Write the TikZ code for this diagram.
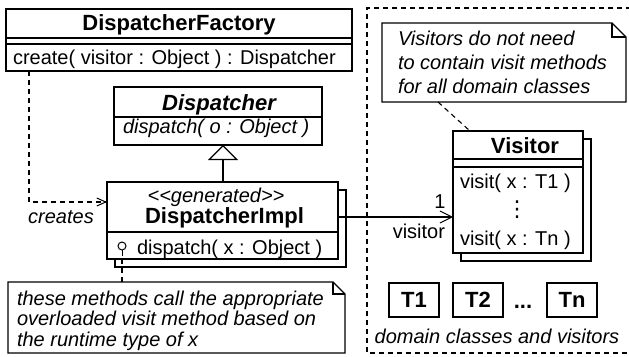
\documentclass[tikz,border=0pt]{standalone}
\usepackage{fontspec}
\setmainfont{Liberation Sans}
\newfontfamily\dejavu{DejaVu Sans}
\usetikzlibrary{arrows.meta,calc}
\begin{document}
\begin{tikzpicture}[x=1pt,y=-1pt,
  lw/.style={line width=1.2pt},
  dline/.style={line width=1.1pt,dash pattern=on 5pt off 4pt},
  box/.style={draw,fill=white,line width=1.2pt,inner sep=0pt,outer sep=0pt,rectangle},
  area/.style={inner sep=0pt,outer sep=0pt,rectangle},
  txt/.style={inner sep=0pt,outer sep=0pt,font=\fontsize{20}{24}\selectfont},
  itxt/.style={inner sep=0pt,outer sep=0pt,font=\fontsize{20}{24}\selectfont\itshape},
  btxt/.style={inner sep=0pt,outer sep=0pt,font=\fontsize{22}{26}\selectfont\bfseries},
  bitxt/.style={inner sep=0pt,outer sep=0pt,font=\fontsize{22}{26}\selectfont\bfseries\itshape},
  tbox/.style={box,minimum width=50pt,minimum height=34pt,font=\fontsize{22}{26}\selectfont\bfseries}
]
\useasboundingbox (0,0) rectangle (629,356);

% container of the domain classes and visitors
\coordinate (ctr) at (640,8);
\coordinate (ctl) at (367,8);
\coordinate (cbl) at (367,353);
\coordinate (cbr) at (640,353);
\draw[dline] (ctr) -- (ctl) -- (cbl) -- (cbr);

% DispatcherFactory
\node[box,minimum width=346pt,minimum height=62pt] (df) at (179,40) {};
\draw[lw] (df.west |- 0,38) -- (df.east |- 0,38);
\draw[lw] (df.west |- 0,44) -- (df.east |- 0,44);
\node[btxt,anchor=base] (dft) at (179,30) {DispatcherFactory};
\node[txt,anchor=base west] (dfm) at (13,64) {create( visitor : Object ) : Dispatcher};

% Dispatcher
\node[box,minimum width=208pt,minimum height=58pt] (disp) at (218,116) {};
\draw[lw] (disp.west |- 0,117) -- (disp.east |- 0,117);
\node[bitxt,anchor=base] (dispt) at (219,110) {Dispatcher};
\node[itxt,anchor=base west] (dispm) at (123,133) {dispatch( o : Object )};

% DispatcherImpl
\node[box,minimum width=231pt,minimum height=77pt] (dimplsh) at (230.5,228.5) {};
\node[box,minimum width=231pt,minimum height=77pt] (dimpl) at (222.5,220.5) {};
\draw[lw] (dimpl.west |- 0,232) -- (dimpl.east |- 0,232);
\node[itxt,anchor=base] (dimpls) at (216,202) {<{}<generated>{}>};
\node[btxt,anchor=base] (dimplt) at (224.5,223) {DispatcherImpl};
\node[txt,anchor=base west] (dimplm) at (137,254) {dispatch( x : Object )};
\draw[line width=1pt] (122,250) -- (122,256);
\draw[line width=1pt,fill=white] (122,246) circle (4);

% generalization
\draw[lw,-{Triangle[open,length=15pt,width=30pt]}] (dimpl.north -| 223,0) -- (disp.south -| 223,0);

% creates
\draw[dline,-{Straight Barb[length=9pt,width=8pt,line width=1pt]}] ([xshift=23pt]df.south west) |- (dimpl.west |- 0,202);
\node[itxt,anchor=base] (cr) at (61,223) {creates};

% note 1
\node[area,minimum width=337pt,minimum height=71pt] (n1) at (176.5,317.5) {};
\draw[lw,fill=white] (n1.north west) -- ($(n1.north east)+(-12,0)$) -- ($(n1.north east)+(0,12)$) -- (n1.south east) -- (n1.south west) -- cycle;
\draw[lw] ($(n1.north east)+(-12,0)$) |- ($(n1.north east)+(0,12)$);
\node[itxt,anchor=base west] (n1a) at (17,305) {these methods call the appropriate};
\node[itxt,anchor=base west] (n1b) at (17,325) {overloaded visit method based on};
\node[itxt,anchor=base west] (n1c) at (17,346) {the runtime type of x};
\draw[dline] (n1.north -| 122,0) -- (dimpl.south -| 122,0);

% note 2
\node[area,minimum width=244pt,minimum height=79pt] (n2) at (504,62.5) {};
\draw[lw,fill=white] (n2.north west) -- ($(n2.north east)+(-14,0)$) -- ($(n2.north east)+(0,14)$) -- (n2.south east) -- (n2.south west) -- cycle;
\draw[lw] ($(n2.north east)+(-14,0)$) |- ($(n2.north east)+(0,14)$);
\node[itxt,anchor=base west] (n2a) at (398,45) {Visitors do not need};
\node[itxt,anchor=base west] (n2b) at (398,69) {to contain visit methods};
\node[itxt,anchor=base west] (n2c) at (398,93) {for all domain classes};

% Visitor
\node[box,minimum width=130pt,minimum height=122pt] (vish) at (526,200) {};
\node[box,minimum width=130pt,minimum height=122pt] (vis) at (518,192) {};
\draw[lw] (vis.west |- 0,159) -- (vis.east |- 0,159);
\draw[lw] (vis.west |- 0,167) -- (vis.east |- 0,167);
\node[btxt,anchor=base] (vist) at (525,153) {Visitor};
\node[txt,anchor=base west] (vism1) at (460,188) {visit( x : T1 )};
\node[inner sep=0pt,font=\fontsize{22}{26}\selectfont\dejavu] (visd) at (517,210) {⋮};
\node[txt,anchor=base west] (vism2) at (460,245) {visit( x : Tn )};
\draw[dline] (n2.south -| 438,0) -- (vis.north -| 470,0);

% association
\draw[lw,-{Straight Barb[length=12pt,width=12pt,line width=1pt]}] (dimpl.east |- 0,217) -- (vis.west |- 0,217);
\node[txt,anchor=base] (m1) at (440,208) {1};
\node[txt,anchor=base east] (rvis) at (445,238) {visitor};

% domain classes
\node[tbox] (t1) at (414,300) {T1};
\node[tbox] (t2) at (478,300) {T2};
\node[btxt,anchor=base] (tdots) at (523,308) {...};
\node[tbox] (tn) at (572,300) {Tn};
\node[itxt,anchor=base] (dom) at (497,343) {domain classes and visitors};
\end{tikzpicture}
\end{document}
